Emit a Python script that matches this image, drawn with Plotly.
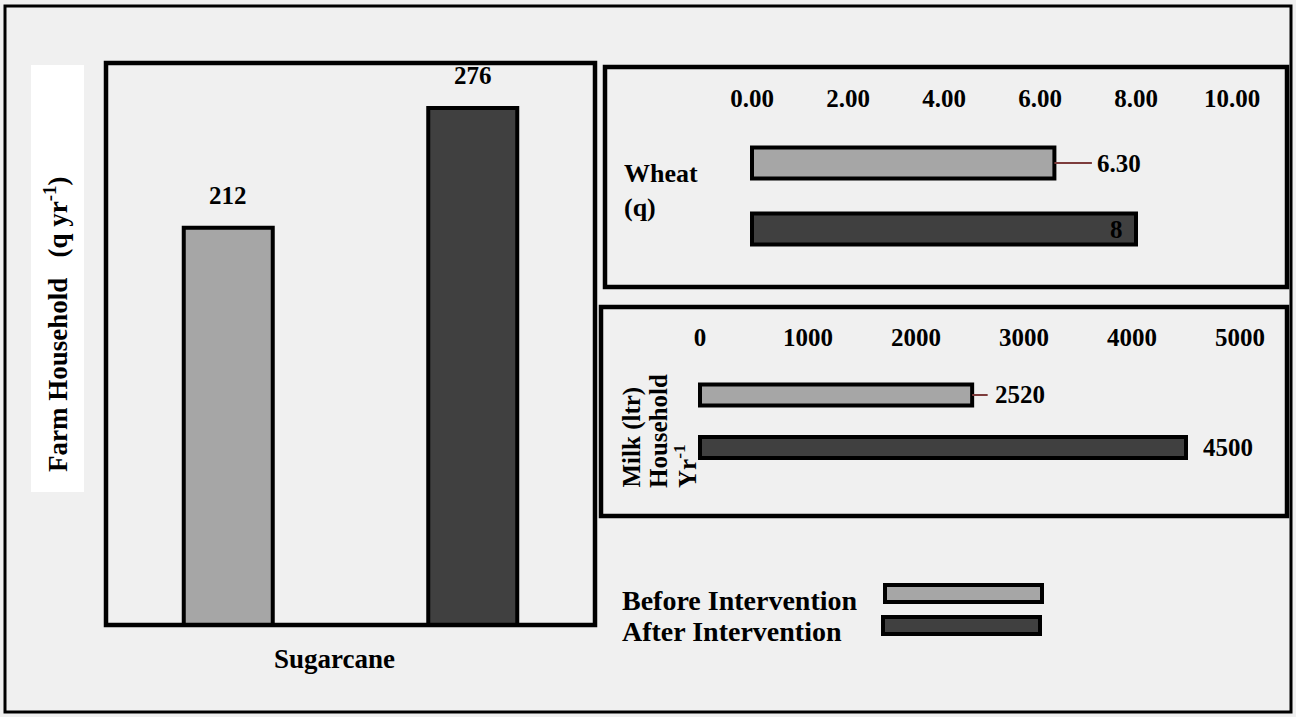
import plotly.graph_objects as go

# ---------------- data ----------------
series = ["Before Intervention", "After Intervention"]
sugarcane = [212, 276]
wheat = [6.30, 8]
wheat_labels = ["6.30", "8"]
milk = [2520, 4500]
milk_labels = ["2520", "4500"]
wheat_ticks = [0, 2, 4, 6, 8, 10]
milk_ticks = [0, 1000, 2000, 3000, 4000, 5000]

# ---------------- helpers ----------------
W, H = 1296, 717


def px(x):
    return x / W


def py(y):
    return 1 - y / H


FONT = "Liberation Serif"


def f(size, color="black"):
    return dict(family=FONT, size=size, color=color, weight="bold")


LIGHT = "#a6a6a6"
DARK = "#404040"
colors = [LIGHT, DARK]
LEADER = "#7d3c3c"

fig = go.Figure()

# Sugarcane (vertical)
fig.add_trace(go.Bar(
    x=series, y=sugarcane, width=0.364,
    marker=dict(color=colors, line=dict(color="black", width=4)),
    xaxis="x", yaxis="y", hoverinfo="skip"))

# Wheat (horizontal)
fig.add_trace(go.Bar(
    y=series, x=wheat, orientation="h", width=0.47,
    marker=dict(color=colors, line=dict(color="black", width=4)),
    xaxis="x2", yaxis="y2", hoverinfo="skip"))

# Milk (horizontal)
fig.add_trace(go.Bar(
    y=series, x=milk, orientation="h", width=0.40,
    marker=dict(color=colors, line=dict(color="black", width=4)),
    xaxis="x3", yaxis="y3", hoverinfo="skip"))

# wheat axis geometry: 0 at px 752, 48 px per unit
w0, wppu = 752, 48.0
# milk axis geometry: 0 at px 700, 0.108 px per unit
m0, mppu = 700, 0.108

common_x = dict(showgrid=False, zeroline=False, showline=False, ticks="", fixedrange=True)

fig.update_layout(
    width=W, height=H,
    margin=dict(l=0, r=0, t=0, b=0),
    paper_bgcolor="#f0f0f0",
    plot_bgcolor="rgba(0,0,0,0)",
    showlegend=False,
    font=f(25),
    xaxis=dict(domain=[px(106), px(595)], range=[-0.5, 1.5], showticklabels=False,
               anchor="y", **common_x),
    yaxis=dict(domain=[py(625), py(63)], range=[0, 300], visible=False, anchor="x"),
    xaxis2=dict(domain=[px(605), px(1287)],
                range=[(605 - w0) / wppu, (1287 - w0) / wppu],
                side="top", tickvals=wheat_ticks, tickformat=".2f",
                tickfont=f(25), anchor="y2", **common_x),
    yaxis2=dict(domain=[py(287), py(113)], type="category",
                range=[1 + (287 - 229) / 66, -(163 - 113) / 66],
                visible=False, anchor="x2"),
    xaxis3=dict(domain=[px(601), px(1287)],
                range=[(601 - m0) / mppu, (1287 - m0) / mppu],
                side="top", tickvals=milk_ticks, tickformat="d",
                tickfont=f(25), anchor="y3", **common_x),
    yaxis3=dict(domain=[py(516), py(352)], type="category",
                range=[1 + (516 - 447.5) / 52.5, -(395 - 352) / 52.5],
                visible=False, anchor="x3"),
)

ann = []
# sugarcane value labels
for s, v in zip(series, sugarcane):
    ann.append(dict(x=s, y=v, xref="x", yref="y", text=str(v), showarrow=False,
                    xanchor="center", yanchor="middle", yshift=32, font=f(25)))
# wheat labels
ann.append(dict(x=wheat[0], y=series[0], xref="x2", yref="y2", text=wheat_labels[0],
                showarrow=True, ax=65, ay=0, arrowhead=0, arrowwidth=2,
                arrowcolor=LEADER, startstandoff=4, standoff=0, font=f(25)))
ann.append(dict(x=wheat[1], y=series[1], xref="x2", yref="y2", text=wheat_labels[1],
                showarrow=False, xanchor="right", yanchor="middle", xshift=-11, font=f(25)))
# milk labels
ann.append(dict(x=milk[0], y=series[0], xref="x3", yref="y3", text=milk_labels[0],
                showarrow=True, ax=48, ay=0, arrowhead=0, arrowwidth=2,
                arrowcolor=LEADER, startstandoff=6, standoff=0, font=f(25)))
ann.append(dict(x=milk[1], y=series[1], xref="x3", yref="y3", text=milk_labels[1],
                showarrow=False, xanchor="center", yanchor="middle", xshift=42, font=f(25)))


def pann(x, y, text, size, xanchor="center", yanchor="middle", **kw):
    d = dict(x=px(x), y=py(y), xref="paper", yref="paper", text=text,
             showarrow=False, xanchor=xanchor, yanchor=yanchor, font=f(size))
    d.update(kw)
    return d


# titles / category labels
ann.append(pann(56, 324, "Farm Household\u00a0\u00a0 (q yr<sup>-1</sup>)", 27, textangle=-90))
ann.append(pann(334, 659, "Sugarcane", 27))
ann.append(pann(622, 173, "Wheat", 26, xanchor="left"))
ann.append(pann(622, 208, "(q)", 26, xanchor="left"))
for xc, t in [(631, "Milk (ltr)"), (658, "Household"), (685, "Yr<sup>-1</sup>")]:
    ann.append(pann(xc, 490, t, 25, yanchor="bottom", textangle=-90))
# legend text
ann.append(pann(620, 600, series[0], 28, xanchor="left"))
ann.append(pann(620, 631, series[1], 28, xanchor="left"))

shapes = []


def rect(x0, y0, x1, y1, lw=4.5, fill=None, color="black", layer="above"):
    d = dict(type="rect", xref="paper", yref="paper",
             x0=px(x0), x1=px(x1), y0=py(y0), y1=py(y1), layer=layer,
             line=dict(color=color, width=lw))
    if fill:
        d["fillcolor"] = fill
    if lw == 0:
        d["line"] = dict(width=0)
    return d


shapes.append(rect(31, 65, 84, 492, lw=0, fill="white", layer="below"))
shapes.append(rect(5, 6, 1291, 712, lw=3))
shapes.append(rect(106, 63, 595, 625, lw=4.5))
shapes.append(rect(605, 67, 1287, 287, lw=4.5))
shapes.append(rect(601, 307, 1287, 516, lw=4.5))
# legend swatches
shapes.append(rect(885, 585, 1042, 602, lw=4, fill=LIGHT))
shapes.append(rect(883, 617, 1040, 634, lw=4, fill=DARK))

fig.update_layout(annotations=ann, shapes=shapes)

fig.write_html(
    "out.html",
    config={"displayModeBar": False},
    post_script="document.body.style.margin='0';document.body.style.overflow='hidden';",
)
